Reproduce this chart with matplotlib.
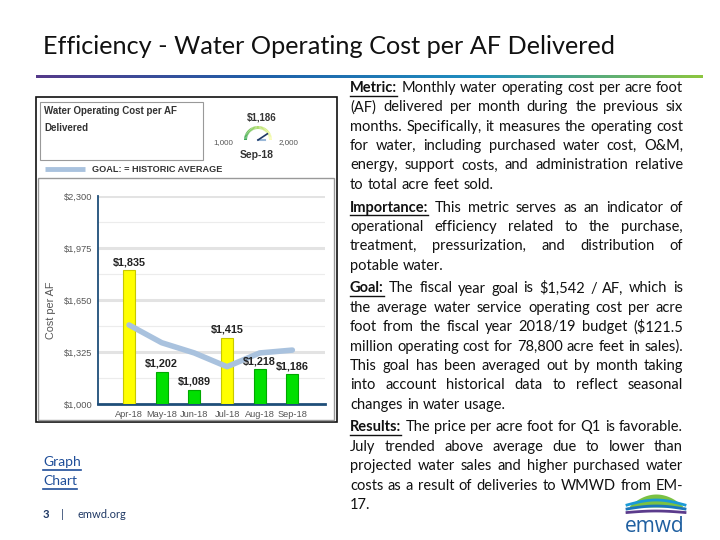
import matplotlib
matplotlib.use("Agg")
import matplotlib.pyplot as plt
import numpy as np
from matplotlib.patches import Rectangle, Wedge
from matplotlib.colors import LinearSegmentedColormap

# chart data
months = ["Apr-18", "May-18", "Jun-18", "Jul-18", "Aug-18", "Sep-18"]
cost = [1835, 1202, 1089, 1415, 1218, 1186]
goal = [1494, 1383, 1319, 1233, 1319, 1337]
y_ticks = [1000, 1325, 1650, 1975, 2300]
gauge_value = 1186
gauge_range = [1000, 2000]

title = "Efficiency - Water Operating Cost per AF Delivered"

# right column text, one list of lines per paragraph, header first
paragraphs = [
    ("Metric:", ["Monthly water operating cost per acre foot",
                 "(AF) delivered per month during the previous six",
                 "months. Specifically, it measures the operating cost",
                 "for water, including purchased water cost, O&M,",
                 "energy, support costs, and administration relative",
                 "to total acre feet sold."]),
    ("Importance:", ["This metric serves as an indicator of",
                     "operational efficiency related to the purchase,",
                     "treatment, pressurization, and distribution of",
                     "potable water."]),
    ("Goal:", ["The fiscal year goal is $1,542 / AF, which is",
               "the average water service operating cost per acre",
               "foot from the fiscal year 2018/19 budget ($121.5",
               "million operating cost for 78,800 acre feet in sales).",
               "This goal has been averaged out by month taking",
               "into account historical data to reflect seasonal",
               "changes in water usage."]),
    ("Results:", ["The price per acre foot for Q1 is favorable.",
                  "July trended above average due to lower than",
                  "projected water sales and higher purchased water",
                  "costs as a result of deliveries to WMWD from EM-",
                  "17."]),
]

W, H = 720, 540
fig = plt.figure(figsize=(7.2, 5.4), dpi=100)
bg = fig.add_axes([0, 0, 1, 1])
bg.set_xlim(0, W)
bg.set_ylim(H, 0)
bg.axis("off")

body_font = "Lato"
chart_font = "Liberation Sans"
body_size = 10.5

# title and gradient rule
bg.text(43, 46, title, fontsize=18.2, family=body_font, va="center", ha="left", color="#111111")
grad = LinearSegmentedColormap.from_list("rule", ["#553a8a", "#1f5fa8", "#1f8fc0", "#8cc63f"])
bg.imshow(np.linspace(0, 1, 256).reshape(1, -1), cmap=grad, aspect="auto",
          extent=(36, 703, 78, 75), zorder=2)

# chart frame
bg.add_patch(Rectangle((36, 97), 301, 325, fill=False, ec="#111111", lw=1.2))
bg.add_patch(Rectangle((40, 102), 163, 58, fill=False, ec="#999999", lw=0.8))
bg.add_patch(Rectangle((38, 178), 296, 242, fill=False, ec="#999999", lw=1.0))
bg.text(44, 111, "Water Operating Cost per AF", fontsize=7, weight="bold",
        family=chart_font, color="#333333", va="center")
bg.text(44, 128, "Delivered", fontsize=7, weight="bold", family=chart_font,
        color="#333333", va="center")

# gauge
gx, gy, gr = 258, 140, 14
for i in range(30):
    a0 = 180 - i * 6
    c = plt.cm.RdYlGn_r(0.15 + i / 30 * 0.35)
    bg.add_patch(Wedge((gx, gy), gr, -a0, -a0 + 6, width=3, color=c, lw=0))
frac = (gauge_value - gauge_range[0]) / (gauge_range[1] - gauge_range[0])
ang = np.pi * (1 - frac)
bg.plot([gx, gx - gr * 0.8 * np.cos(ang)], [gy, gy - gr * 0.8 * np.sin(ang)],
        color="#1f3864", lw=1.2, zorder=4)
bg.plot([gx, gx + 7], [gy, gy], color="#9ab8d8", lw=1.5, zorder=3)
bg.text(262, 118, "${:,}".format(gauge_value), fontsize=7, weight="bold", family=chart_font,
        color="#333333", ha="center", va="center")
bg.text(257, 155, "Sep-18", fontsize=7.5, weight="bold", family=chart_font,
        color="#333333", ha="center", va="center")
bg.text(233, 143, "{:,}".format(gauge_range[0]), fontsize=5.8, family=chart_font,
        color="#555555", ha="right", va="center")
bg.text(279, 143, "{:,}".format(gauge_range[1]), fontsize=5.8, family=chart_font,
        color="#555555", ha="left", va="center")

# legend entry
bg.plot([45, 85], [169, 169], color="#a9c2de", lw=3.5, solid_capstyle="butt")
bg.text(92, 170, "GOAL: = HISTORIC AVERAGE", fontsize=6.6, weight="bold", family=chart_font,
        color="#333333", va="center")

# bar chart
ax = fig.add_axes([98 / W, (H - 404) / H, 227 / W, 208 / H])
x = np.arange(len(months))
colors = ["#ffff00" if c > g else "#00e000" for c, g in zip(cost, goal)]
edges = ["#c8c800" if c > g else "#00a800" for c, g in zip(cost, goal)]
ax.bar(x, np.array(cost) - 1000, bottom=1000, width=0.36, color=colors,
       edgecolor=edges, linewidth=0.8, zorder=3)
ax.plot(x, goal, color="#a9c2de", lw=4, solid_joinstyle="round",
        solid_capstyle="round", zorder=4)
for xi, v in zip(x, cost):
    ax.text(xi, v + 18, "${:,}".format(v), ha="center", va="bottom", family=chart_font,
            fontsize=7.8, weight="bold", color="#222222", zorder=5)
ax.set_xlim(-0.95, 6.0)
ax.set_ylim(1000, 2300)
ax.set_yticks(y_ticks)
ax.set_yticklabels(["${:,}".format(t) for t in y_ticks], family=chart_font)
minor = [(a + b) / 2 for a, b in zip(y_ticks[:-1], y_ticks[1:])]
for t in y_ticks[1:]:
    ax.axhline(t, color="#e3e3e3", lw=2.2, zorder=1)
for t in minor:
    ax.axhline(t, color="#ececec", lw=0.8, zorder=1)
ax.set_xticks(x)
ax.set_xticklabels(months, family=chart_font)
ax.tick_params(axis="both", length=0, labelsize=6.7, labelcolor="#555555", pad=4)
ax.set_ylabel("Cost per AF", fontsize=7.8, color="#555555", family=chart_font)
ax.yaxis.set_label_coords(-0.185, 0.45)
for s in ["top", "right"]:
    ax.spines[s].set_visible(False)
ax.spines["left"].set_color("#1f4e79")
ax.spines["left"].set_linewidth(1.3)
ax.spines["bottom"].set_color("#1f4e79")
ax.spines["bottom"].set_linewidth(2)
ax.set_facecolor("none")

# justified body text
renderer = fig.canvas.get_renderer()


def word_width(s, weight="normal", size=body_size):
    t = bg.text(0, 0, s, fontsize=size, family=body_font, weight=weight)
    w = t.get_window_extent(renderer).width
    t.remove()
    return w


space_w = word_width("a a") - word_width("aa")
left, right = 350, 683
line_h = 19.35
y = 88
for head, lines in paragraphs:
    for li, line in enumerate(lines):
        items = [(w, "normal") for w in line.split(" ")]
        if li == 0:
            items = [(head, "bold")] + items
        widths = [word_width(w, wt) for w, wt in items]
        if li == len(lines) - 1 or len(items) == 1:
            gap = space_w * 1.15
        else:
            gap = (right - left - sum(widths)) / (len(items) - 1)
        cx = left
        for k, ((w, wt), ww) in enumerate(zip(items, widths)):
            bg.text(cx, y, w, fontsize=body_size, family=body_font, weight=wt,
                    va="center", ha="left", color="#111111")
            if li == 0 and k == 0:
                bg.plot([cx, cx + ww], [y + 7.5, y + 7.5], color="#111111", lw=1)
            cx += ww + gap
        y += line_h
    y += 3.5

# links and footer
for lbl, ly in [("Graph", 462), ("Chart", 481)]:
    bg.text(43, ly, lbl, fontsize=10, family=body_font, color="#1f4e99", va="center")
    bg.plot([43, 43 + word_width(lbl, size=10)], [ly + 7.5, ly + 7.5], color="#1f4e99", lw=1.2)
bg.text(43, 515, "3", fontsize=8, family=body_font, weight="bold", color="#1f3864", va="center")
bg.text(61, 515, "|", fontsize=8, family=body_font, color="#1f3864", va="center")
bg.text(77, 515, "emwd.org", fontsize=8, family=body_font, color="#1f3864", va="center")

# logo
lx = np.linspace(627, 685, 60)
bump = np.sin(np.pi * (lx - 627) / 58)
bg.fill_between(lx, 510 - 16 * bump ** 0.7, 507, color="#7ac143", lw=0)
bg.plot(lx, 505 - 5 * bump, color="#1b9ad6", lw=2)
bg.plot(lx, 509 - 3 * bump, color="#1b75bc", lw=2)
bg.plot(lx, 512.5 - 1.5 * bump, color="#5b3b8c", lw=2)
bg.text(655, 526, "emwd", fontsize=15, family="Open Sans", color="#1f5fa0",
        ha="center", va="center")

fig.savefig("out.png", dpi=100)
